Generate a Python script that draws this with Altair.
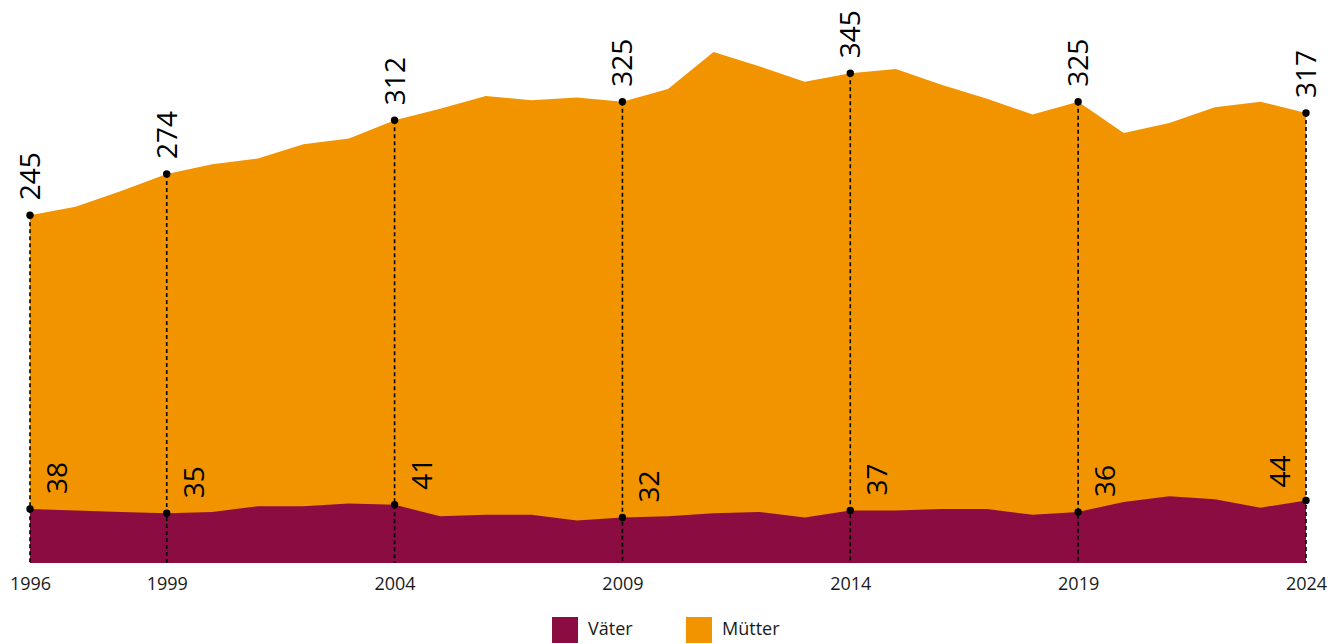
import altair as alt
import pandas as pd

years = list(range(1996, 2025))
muetter = [245, 251, 262, 274, 281, 285, 295, 299, 312, 320, 329, 326, 328, 325,
           334, 360, 350, 339, 345, 348, 337, 327, 316, 325, 303, 310, 321, 325, 317]
vaeter = [38, 37, 36, 35, 36, 40, 40, 42, 41, 33, 34, 34, 30, 32,
          33, 35, 36, 32, 37, 37, 38, 38, 34, 36, 43, 47, 45, 39, 44]
label_years = [1996, 1999, 2004, 2009, 2014, 2019, 2024]
groups = ["Väter", "Mütter"]
colors = ["#8A0C40", "#F29400"]

rows = []
for y, m, v in zip(years, muetter, vaeter):
    rows.append({"Jahr": y, "Gruppe": "Mütter", "Wert": m})
    rows.append({"Jahr": y, "Gruppe": "Väter", "Wert": v})
df = pd.DataFrame(rows)
lab = df[df["Jahr"].isin(label_years)]

FONT = "Open Sans"
LABFONT = "Open Sans"
LABSIZE = 28

x = alt.X("Jahr:Q", scale=alt.Scale(domain=[1996, 2024], nice=False, zero=False),
          axis=alt.Axis(values=label_years, format="d", title=None, ticks=False,
                        domain=False, grid=False, labelPadding=12, labelFontSize=18,
                        labelFont=FONT, labelColor="#1a1a1a", labelFlush=False,
                        labelOverlap=False))
y = alt.Y("Wert:Q", scale=alt.Scale(domain=[0, 391], nice=False), axis=None)
color = alt.Color("Gruppe:N", scale=alt.Scale(domain=groups, range=colors),
                  legend=alt.Legend(title=None, orient="none", direction="horizontal",
                                    legendX=522, legendY=609, symbolType="square",
                                    symbolSize=676, symbolStrokeWidth=0, symbolOpacity=1,
                                    labelFontSize=18, labelFont=FONT, labelColor="#1a1a1a",
                                    labelOffset=10, columnPadding=53))

base = alt.Chart(df)
area_m = base.mark_area(opacity=1, interpolate="linear").encode(x=x, y=y, color=color).transform_filter(
    alt.datum.Gruppe == "Mütter")
area_v = base.mark_area(opacity=1, interpolate="linear").encode(x=x, y=y, color=color).transform_filter(
    alt.datum.Gruppe == "Väter")

labbase = alt.Chart(lab)
rules = labbase.mark_rule(color="black", strokeWidth=1.6, strokeDash=[4, 3]).encode(
    x=alt.X("Jahr:Q"), y=alt.Y("Wert:Q"), y2=alt.datum(0)
).transform_filter(alt.datum.Gruppe == "Mütter")
dots = labbase.mark_circle(color="black", size=55, opacity=1).encode(
    x=alt.X("Jahr:Q"), y=alt.Y("Wert:Q"))
top_txt = labbase.mark_text(angle=270, align="left", baseline="middle", dx=15, dy=2,
                            fontSize=LABSIZE, font=LABFONT, color="black").encode(
    x=alt.X("Jahr:Q"), y=alt.Y("Wert:Q"), text=alt.Text("Wert:Q")
).transform_filter(alt.datum.Gruppe == "Mütter")
v_txt = labbase.mark_text(angle=270, align="left", baseline="middle", dx=15, dy=29,
                          fontSize=LABSIZE, font=LABFONT, color="black").encode(
    x=alt.X("Jahr:Q"), y=alt.Y("Wert:Q"), text=alt.Text("Wert:Q")
).transform_filter((alt.datum.Gruppe == "Väter") & (alt.datum.Jahr < 2024))
v_txt_last = labbase.mark_text(angle=270, align="left", baseline="middle", dx=13, dy=-24,
                               fontSize=LABSIZE, font=LABFONT, color="black").encode(
    x=alt.X("Jahr:Q"), y=alt.Y("Wert:Q"), text=alt.Text("Wert:Q")
).transform_filter((alt.datum.Gruppe == "Väter") & (alt.datum.Jahr == 2024))

chart = alt.layer(area_m, area_v, rules, dots, top_txt, v_txt, v_txt_last).properties(
    width=1276, height=555,
    padding={"left": 22, "top": 0, "right": 28, "bottom": 81},
    autosize=alt.AutoSizeParams(type="none"),
    background="white",
).configure_view(stroke=None)

chart.save("out.html", embed_options={"renderer": "svg", "actions": False})
